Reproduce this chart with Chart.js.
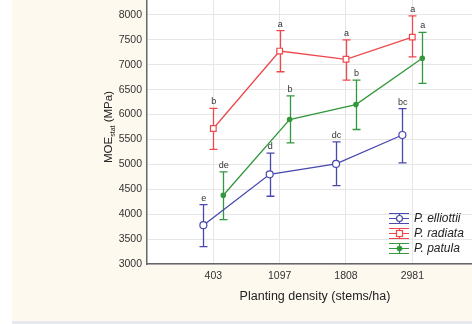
<!DOCTYPE html>
<html><head><meta charset="utf-8">
<script src="https://cdn.jsdelivr.net/npm/chart.js@4"></script>
<style>html,body{margin:0;padding:0;background:#fff;overflow:hidden;}#wrap{width:472px;height:324px;overflow:hidden;}canvas{display:block;}</style>
</head><body><div id="wrap"><canvas id="c" width="472" height="324"></canvas></div>
<script>
const categories = ['403', '1097', '1808', '2981'];
const seriesNames = ['P. elliottii', 'P. radiata', 'P. patula'];
const elliottiiMean = [3780, 4800, 5010, 5590];
const elliottiiLow  = [3350, 4360, 4575, 5030];
const elliottiiHigh = [4190, 5225, 5450, 6120];
const radiataMean = [5720, 7275, 7110, 7555];
const radiataLow  = [5300, 6860, 6690, 7160];
const radiataHigh = [6125, 7685, 7500, 7980];
const patulaMean = [4380, 5900, 6200, 7130];
const patulaLow  = [3890, 5430, 5700, 6625];
const patulaHigh = [4850, 6375, 6690, 7650];
const elliottiiLetters = ['e', 'd', 'dc', 'bc'];
const radiataLetters = ['b', 'a', 'a', 'a'];
const patulaLetters = ['de', 'b', 'b', 'a'];
const yTicks = [3000, 3500, 4000, 4500, 5000, 5500, 6000, 6500, 7000, 7500, 8000];

const colors = ['#4848ae', '#ee4a4e', '#33983c'];
const offsets = [-0.15, 0, 0.15];
const means = [elliottiiMean, radiataMean, patulaMean];
const lows = [elliottiiLow, radiataLow, patulaLow];
const highs = [elliottiiHigh, radiataHigh, patulaHigh];
const letters = [elliottiiLetters, radiataLetters, patulaLetters];
const pstyles = ['circle', 'rect', 'circle'];
const pradius = [3.5, 4, 2.2];
const pfill = ['#ffffff', '#ffffff', colors[2]];

const datasets = means.map((m, s) => ({
  label: seriesNames[s],
  data: m.map((v, i) => ({x: i + offsets[s], y: v})),
  borderColor: colors[s],
  backgroundColor: pfill[s],
  pointBorderColor: colors[s],
  pointBackgroundColor: pfill[s],
  pointStyle: pstyles[s],
  pointRadius: pradius[s],
  pointBorderWidth: 1.2,
  borderWidth: 1.3,
  tension: 0,
  fill: false
}));

const bgPlugin = {
  id: 'bg',
  beforeDraw(chart) {
    const ctx = chart.ctx, a = chart.chartArea;
    ctx.save();
    ctx.fillStyle = '#fdf9ee';
    ctx.fillRect(12, 0, 460, 321);
    ctx.fillStyle = '#e6e9ed';
    ctx.fillRect(12, 321, 460, 3);
    ctx.fillStyle = '#ffffff';
    ctx.fillRect(a.left, a.top, a.right - a.left, a.bottom - a.top);
    ctx.restore();
  },
  beforeDatasetsDraw(chart) {
    const ctx = chart.ctx, xs = chart.scales.x, ys = chart.scales.y;
    ctx.save();
    means.forEach((m, s) => {
      ctx.strokeStyle = colors[s];
      ctx.lineWidth = 1.3;
      m.forEach((v, i) => {
        const x = Math.round(xs.getPixelForValue(i + offsets[s])) + 0.5;
        const yl = ys.getPixelForValue(lows[s][i]);
        const yh = ys.getPixelForValue(highs[s][i]);
        ctx.beginPath();
        ctx.moveTo(x, yl); ctx.lineTo(x, yh);
        ctx.moveTo(x - 4, yl); ctx.lineTo(x + 4, yl);
        ctx.moveTo(x - 4, yh); ctx.lineTo(x + 4, yh);
        ctx.stroke();
      });
    });
    ctx.restore();
  },
  afterDatasetsDraw(chart) {
    const ctx = chart.ctx, xs = chart.scales.x, ys = chart.scales.y;
    ctx.save();
    ctx.fillStyle = '#333333';
    ctx.font = '9px "Liberation Sans", Arial, sans-serif';
    ctx.textAlign = 'center';
    ctx.textBaseline = 'alphabetic';
    letters.forEach((L, s) => {
      L.forEach((t, i) => {
        const x = xs.getPixelForValue(i + offsets[s]);
        const y = ys.getPixelForValue(highs[s][i]);
        ctx.fillText(t, x + 0.5, y - 4);
      });
    });
    // legend
    const lx = 389, ly0 = 218, dy = 15;
    seriesNames.forEach((name, s) => {
      const cy = ly0 + s * dy;
      ctx.strokeStyle = colors[s];
      ctx.lineWidth = 1.2;
      ctx.beginPath();
      ctx.moveTo(lx, cy - 4.5); ctx.lineTo(lx + 20, cy - 4.5);
      ctx.moveTo(lx, cy + 0.5); ctx.lineTo(lx + 20, cy + 0.5);
      ctx.moveTo(lx, cy + 5.5); ctx.lineTo(lx + 20, cy + 5.5);
      ctx.moveTo(lx + 10.5, cy - 4.5); ctx.lineTo(lx + 10.5, cy + 5.5);
      ctx.stroke();
      ctx.beginPath();
      if (pstyles[s] === 'rect') {
        ctx.fillStyle = '#fff';
        ctx.fillRect(lx + 7.5, cy - 2.5, 6, 6);
        ctx.strokeRect(lx + 7.5, cy - 2.5, 6, 6);
      } else {
        ctx.fillStyle = pfill[s];
        ctx.arc(lx + 10.5, cy + 0.5, s === 0 ? 3 : 2.2, 0, Math.PI * 2);
        ctx.fill(); ctx.stroke();
      }
      ctx.fillStyle = '#222';
      ctx.font = 'italic 12px "Liberation Sans", Arial, sans-serif';
      ctx.textAlign = 'left';
      ctx.textBaseline = 'middle';
      ctx.fillText(name, lx + 25, cy + 0.5);
    });
    ctx.restore();
  },
  afterDraw(chart) {
    const ctx = chart.ctx;
    ctx.save();
    ctx.fillStyle = '#222';
    ctx.font = '12.5px "Liberation Sans", Arial, sans-serif';
    ctx.textAlign = 'center';
    ctx.textBaseline = 'middle';
    ctx.fillText('Planting density (stems/ha)', 315, 297);
    // y title with subscript
    ctx.translate(108, 127);
    ctx.rotate(-Math.PI / 2);
    const f1 = '11.5px "Liberation Sans", Arial, sans-serif';
    const f2 = '7px "Liberation Sans", Arial, sans-serif';
    ctx.font = f1; const w1 = ctx.measureText('MOE').width;
    const w3 = ctx.measureText(' (MPa)').width;
    ctx.font = f2; const w2 = ctx.measureText('stat').width;
    let x0 = -(w1 + w2 + w3) / 2;
    ctx.textAlign = 'left';
    ctx.textBaseline = 'alphabetic';
    ctx.font = f1; ctx.fillText('MOE', x0, 4);
    ctx.font = f2; ctx.fillText('stat', x0 + w1, 7);
    ctx.font = f1; ctx.fillText(' (MPa)', x0 + w1 + w2, 4);
    ctx.restore();
  }
};

new Chart(document.getElementById('c'), {
  type: 'line',
  data: {datasets},
  options: {
    responsive: false,
    animation: false,
    layout: {padding: 0, autoPadding: false},
    plugins: {legend: {display: false}, tooltip: {enabled: false}},
    scales: {
      x: {
        type: 'linear',
        min: -1, max: 3.9,
        afterBuildTicks(sc) { sc.ticks = categories.map((c, i) => ({value: i})); },
        afterFit(sc) { sc.height = 60; sc.paddingLeft = 0; sc.paddingRight = 0; },
        ticks: {
          callback: (v) => categories[v],
          color: '#333', font: {size: 10.5, family: '"Liberation Sans", Arial, sans-serif'},
          padding: 6, maxRotation: 0, autoSkip: false
        },
        grid: {color: '#e6e6e6', drawTicks: false, lineWidth: 1},
        border: {color: '#666', width: 1.5}
      },
      y: {
        type: 'linear',
        min: 3000, max: 8300,
        afterBuildTicks(sc) { sc.ticks = yTicks.map(v => ({value: v})); },
        afterFit(sc) { sc.width = 147; sc.paddingTop = 0; sc.paddingBottom = 0; },
        ticks: {
          callback: (v) => String(v),
          color: '#333', font: {size: 10.5, family: '"Liberation Sans", Arial, sans-serif'},
          padding: 5
        },
        grid: {color: '#e6e6e6', drawTicks: false, lineWidth: 1},
        border: {color: '#666', width: 1.5}
      }
    }
  },
  plugins: [bgPlugin]
});
</script></body></html>
